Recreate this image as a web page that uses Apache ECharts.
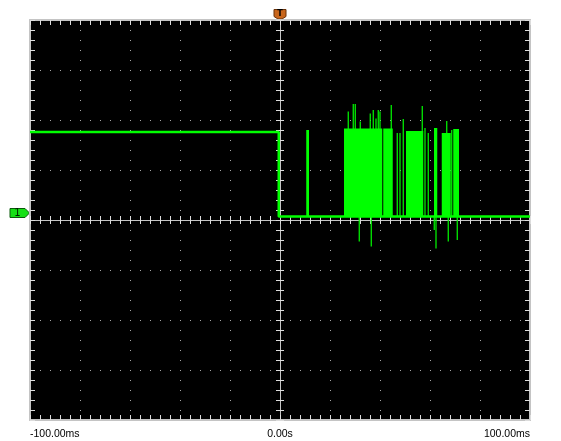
<!DOCTYPE html>
<html>
<head>
<meta charset="utf-8">
<title>scope capture</title>
<script src="https://cdn.jsdelivr.net/npm/echarts@6/dist/echarts.min.js"></script>
<style>
  html, body { margin: 0; padding: 0; background: #ffffff; }
  #scope { width: 561px; height: 441px; }
</style>
</head>
<body>
<div id="scope"></div>
<script>
// time in ms, level in divisions (one div = 50px on screen)
const traceTime = [-100, -0.5, -0.5, 100];
const traceLevel = [1.76, 1.76, 0.07, 0.07];
const lowLevel = 0.07;

// blocks of dense toggling
const burstStart = [10.5, 25.6, 41.3, 50.4, 61.6, 64.7, 69.3];
const burstEnd = [11.6, 40.9, 45.1, 57.3, 62.9, 68.3, 71.6];
const burstTop = [1.8, 1.83, 1.83, 1.78, 1.84, 1.74, 1.82];

// single glitches, up and down
const spikeTime = [27.3, 29.3, 30.1, 32.1, 36.1, 37.3, 38.4, 39.3, 40.0, 44.5, 46.9, 48.0, 49.3, 56.9, 58.0, 59.3, 66.7, 68.7,
  31.7, 36.5, 61.7, 62.4, 67.3, 70.9];
const spikePeak = [2.17, 2.32, 2.32, 1.97, 2.13, 2.2, 2.03, 2.2, 2.17, 2.3, 1.74, 1.74, 2.02, 2.28, 1.84, 1.74, 1.98, 1.8,
  -0.43, -0.53, -0.2, -0.57, -0.43, -0.4];

const timeTicks = [-100, 0, 100];
const timeTickLabels = ['-100.00ms', '0.00s', '100.00ms'];
const channelLevel = 0.14;

const green = '#00ff00';
const frameColor = '#c4c4c4';
const tickColor = '#dcdcdc';

function makeAxis(dim, position, opts) {
  const isX = dim === 'x';
  const axis = {
    type: 'value',
    position: position,
    min: isX ? -100 : -4,
    max: isX ? 100 : 4,
    interval: isX ? 20 : 1,
    offset: opts.offset || 0,
    axisLine: { show: true, onZero: false, lineStyle: { color: frameColor, width: opts.lineWidth || 2 } },
    axisTick: { show: true, inside: opts.inside, length: opts.tickLen || 5, lineStyle: { color: tickColor } },
    minorTick: { show: true, splitNumber: 5, length: opts.tickLen || 5, lineStyle: { color: tickColor } },
    axisLabel: { show: false },
    splitLine: { show: false }
  };
  if (opts.grid) {
    axis.splitLine = { show: true, lineStyle: { color: '#a8a8a8', width: 1, type: [1, 9] } };
  }
  return axis;
}

const xBottom = makeAxis('x', 'bottom', { inside: true, grid: true });
xBottom.axisLabel = {
  show: true,
  margin: 9,
  color: '#000000',
  fontFamily: 'Liberation Sans',
  fontSize: 10.5,
  showMinLabel: true,
  showMaxLabel: true,
  alignMinLabel: 'left',
  alignMaxLabel: 'right',
  formatter: function (v) {
    const i = timeTicks.indexOf(v);
    return i >= 0 ? timeTickLabels[i] : '';
  }
};

const chart = echarts.init(document.getElementById('scope'));

chart.setOption({
  animation: false,
  backgroundColor: '#ffffff',
  grid: { left: 30, top: 20, width: 500, height: 400, show: true, backgroundColor: '#000000', borderWidth: 0 },
  xAxis: [
    xBottom,
    makeAxis('x', 'top', { inside: true }),
    makeAxis('x', 'bottom', { inside: true, offset: -200, lineWidth: 1, tickLen: 4 }),
    makeAxis('x', 'bottom', { inside: false, offset: -200, lineWidth: 1, tickLen: 4 })
  ],
  yAxis: [
    makeAxis('y', 'left', { inside: true, grid: true }),
    makeAxis('y', 'right', { inside: true }),
    makeAxis('y', 'left', { inside: true, offset: -250, lineWidth: 1, tickLen: 4 }),
    makeAxis('y', 'left', { inside: false, offset: -250, lineWidth: 1, tickLen: 4 })
  ],
  series: [
    {
      type: 'line',
      data: traceTime.map((t, i) => [t, traceLevel[i]]),
      showSymbol: false,
      lineStyle: { color: green, width: 2.5 },
      z: 3
    },
    {
      type: 'custom',
      data: burstStart.map((s, i) => [s, burstEnd[i], burstTop[i]]),
      encode: { x: [0, 1], y: 2 },
      renderItem: function (params, api) {
        const a = api.coord([api.value(0), api.value(2)]);
        const b = api.coord([api.value(1), lowLevel]);
        return {
          type: 'rect',
          shape: { x: a[0], y: a[1], width: Math.max(b[0] - a[0], 1), height: b[1] - a[1] },
          style: { fill: green }
        };
      },
      z: 4
    },
    {
      type: 'custom',
      data: spikeTime.map((t, i) => [t, spikePeak[i]]),
      encode: { x: 0, y: 1 },
      renderItem: function (params, api) {
        const a = api.coord([api.value(0), lowLevel]);
        const b = api.coord([api.value(0), api.value(1)]);
        return {
          type: 'line',
          shape: { x1: a[0], y1: a[1], x2: b[0], y2: b[1] },
          style: { stroke: green, lineWidth: 1.2 }
        };
      },
      z: 5
    }
  ]
});

// trigger and channel markers sit on the frame, placed through the axes
const trig = chart.convertToPixel({ gridIndex: 0 }, [0, 4]);
const chan = chart.convertToPixel({ gridIndex: 0 }, [-100, channelLevel]);

chart.setOption({
  graphic: [
    {
      type: 'polygon',
      x: trig[0], y: trig[1],
      shape: { points: [[-6, -10.5], [6, -10.5], [6, -3.5], [2, -1], [-2, -1], [-6, -3.5]] },
      style: { fill: '#c8661c', stroke: '#6a3208', lineWidth: 1 }
    },
    {
      type: 'text',
      x: trig[0], y: trig[1] - 6.5,
      style: { text: 'T', fill: '#000000', font: 'bold 8px "DejaVu Sans"', align: 'center', verticalAlign: 'middle' }
    },
    {
      type: 'polygon',
      x: chan[0], y: chan[1],
      shape: { points: [[-20, -4.5], [-5, -4.5], [-0.5, 0], [-5, 4.5], [-20, 4.5]] },
      style: { fill: '#16e016', stroke: '#0a5a0a', lineWidth: 1 }
    },
    {
      type: 'text',
      x: chan[0] - 12.5, y: chan[1] + 0.5,
      style: { text: '1', fill: '#002000', font: '10px "DejaVu Sans"', align: 'center', verticalAlign: 'middle' }
    }
  ]
});
</script>
</body>
</html>
